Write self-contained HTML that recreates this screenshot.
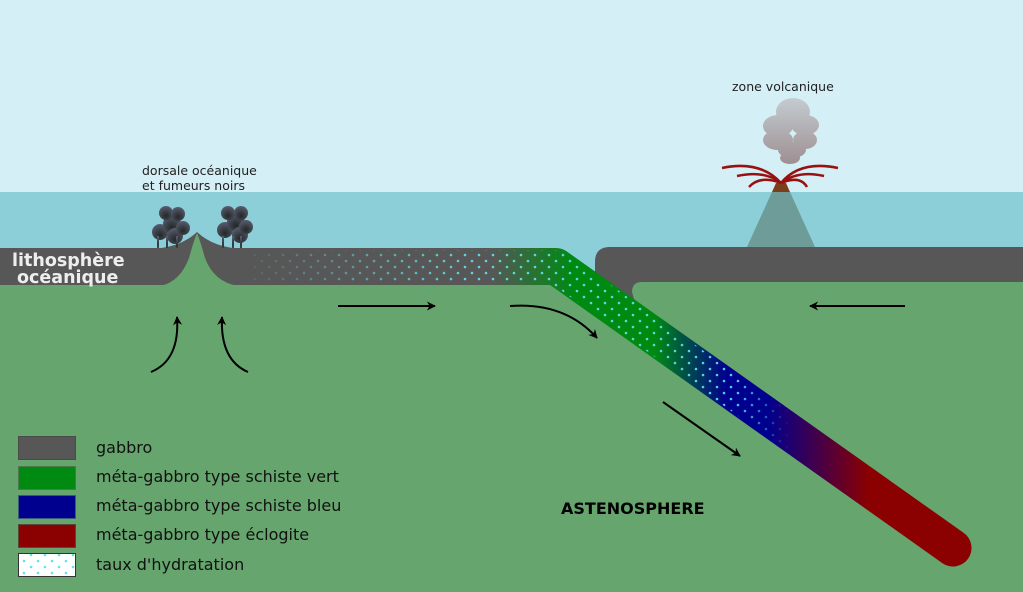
<!DOCTYPE html>
<html><head><meta charset="utf-8"><style>
html,body{margin:0;padding:0;background:#66a56e}
svg{display:block}
text{font-family:"DejaVu Sans","Liberation Sans",sans-serif}
</style></head><body>
<svg width="1023" height="592" viewBox="0 0 1023 592" xmlns="http://www.w3.org/2000/svg">
<defs>
<linearGradient id="slab" gradientUnits="userSpaceOnUse" x1="0" y1="0" x2="1023" y2="0">
<stop offset="0" stop-color="#575757"/>
<stop offset="0.48" stop-color="#575757"/>
<stop offset="0.56" stop-color="#008a12"/>
<stop offset="0.64" stop-color="#008a12"/>
<stop offset="0.71" stop-color="#00008f"/>
<stop offset="0.75" stop-color="#00008f"/>
<stop offset="0.85" stop-color="#8b0000"/>
<stop offset="1" stop-color="#8b0000"/>
</linearGradient>
<pattern id="dots" width="14" height="12" patternUnits="userSpaceOnUse">
<circle cx="3" cy="3" r="1.3" fill="#5fe3f0"/>
<circle cx="10" cy="9" r="1.3" fill="#5fe3f0"/>
</pattern>
<linearGradient id="fade" gradientUnits="userSpaceOnUse" x1="250" y1="0" x2="790" y2="0">
<stop offset="0" stop-color="#fff" stop-opacity="0.1"/>
<stop offset="0.4" stop-color="#fff" stop-opacity="0.9"/>
<stop offset="0.9" stop-color="#fff" stop-opacity="0.9"/>
<stop offset="1" stop-color="#fff" stop-opacity="0"/>
</linearGradient>
<mask id="m"><rect x="250" y="0" width="545" height="592" fill="url(#fade)"/></mask>
<radialGradient id="smoke" cx="0.5" cy="0.7" r="0.7">
<stop offset="0" stop-color="#1a1a1a"/><stop offset="1" stop-color="#556"/>
</radialGradient>
<linearGradient id="cloud" gradientUnits="userSpaceOnUse" x1="0" y1="97" x2="0" y2="164">
<stop offset="0" stop-color="#c4cdd2"/><stop offset="1" stop-color="#9e8f92"/>
</linearGradient>
<marker id="ah" viewBox="0 0 10 10" refX="9" refY="5" markerWidth="9" markerHeight="9" orient="auto" markerUnits="userSpaceOnUse">
<path d="M0,0 L10,5 L0,10 L3,5 Z" fill="#000"/>
</marker>
</defs>
<rect width="1023" height="192" fill="#d4eff5"/>
<rect y="192" width="1023" height="100" fill="#8ccfd9"/>
<rect y="285" width="1023" height="307" fill="#66a56e"/>
<rect x="600" y="282" width="423" height="10" fill="#66a56e"/>
<!-- volcano -->
<polygon points="772,192 790,192 815,247 747,247" fill="#6e9c98"/>
<polygon points="772,192 790,192 786,183 776,183" fill="#7a3f1a"/>
<g fill="url(#cloud)">
<ellipse cx="793" cy="112" rx="17" ry="14"/><ellipse cx="778" cy="126" rx="15" ry="11"/><ellipse cx="805" cy="125" rx="14" ry="10"/>
<ellipse cx="778" cy="140" rx="15" ry="10"/><ellipse cx="805" cy="140" rx="12" ry="9"/><ellipse cx="792" cy="150" rx="14" ry="8"/><ellipse cx="790" cy="158" rx="10" ry="6"/>
</g>
<g fill="none" stroke="#9a1010" stroke-width="2.5">
<path d="M781,183 Q760,160 722,168"/><path d="M781,183 Q765,170 737,176"/><path d="M781,183 Q760,175 749,187"/>
<path d="M781,183 Q800,160 838,168"/><path d="M781,183 Q798,170 824,176"/><path d="M781,183 Q800,175 807,187"/>
</g>
<!-- overriding plate -->
<path d="M1023,247 H610 Q595,247 595,262 L595,278 L637,310 L632,292 Q632,282 642,282 H1023 Z" fill="#575757"/>
<!-- subducting plate -->
<path d="M-20,266.5 H556 L953,548" stroke="url(#slab)" stroke-width="37" stroke-linecap="round" stroke-linejoin="round" fill="none"/>
<path d="M-20,266.5 H556 L953,548" stroke="url(#dots)" stroke-width="33" fill="none" mask="url(#m)"/>
<!-- ridge -->
<path d="M150,249 Q180,248 197,232 Q214,248 244,249 Z" fill="#575757"/>
<path d="M160,286 Q180,282 189,258 Q194,240 197,233 Q200,240 205,258 Q214,282 238,286 Z" fill="#66a56e"/>
<!-- smokers -->
<g fill="url(#smoke)" opacity="0.92">
<circle cx="160" cy="232" r="8"/><circle cx="172" cy="224" r="9"/><circle cx="166" cy="213" r="7"/><circle cx="178" cy="214" r="7"/><circle cx="175" cy="236" r="8"/><circle cx="183" cy="228" r="7"/>
<rect x="157" y="236" width="2" height="12"/><rect x="166" y="236" width="2" height="12"/><rect x="176" y="236" width="2" height="12"/>
<circle cx="225" cy="230" r="8"/><circle cx="236" cy="222" r="9"/><circle cx="228" cy="213" r="7"/><circle cx="241" cy="213" r="7"/><circle cx="240" cy="235" r="8"/><circle cx="246" cy="227" r="7"/>
<rect x="222" y="236" width="2" height="12"/><rect x="232" y="236" width="2" height="12"/><rect x="240" y="236" width="2" height="12"/>
</g>
<!-- arrows -->
<g stroke="#000" stroke-width="2" fill="none" marker-end="url(#ah)">
<path d="M338,306 H435"/>
<path d="M510,306 Q565,302 597,338"/>
<path d="M663,402 L740,456"/>
<path d="M905,306 H810"/>
<path d="M151,372 Q180,360 177,317"/>
<path d="M248,372 Q220,360 222,317"/>
</g>
<!-- labels -->
<text x="142" y="175" font-size="12.5" fill="#222">dorsale océanique</text>
<text x="142" y="190" font-size="12.5" fill="#222">et fumeurs noirs</text>
<text x="732" y="91" font-size="12.5" fill="#222">zone volcanique</text>
<text x="12" y="266" font-size="17.5" font-weight="bold" fill="#eee">lithosphère</text>
<text x="17" y="283" font-size="17.5" font-weight="bold" fill="#eee">océanique</text>
<text x="561" y="514" font-size="16" font-weight="bold" fill="#000">ASTENOSPHERE</text>
<!-- legend -->
<rect x="18.5" y="436.5" width="57" height="23" fill="#575757" stroke="#4a4a4a"/>
<rect x="18.5" y="466.5" width="57" height="23" fill="#008a12" stroke="#4a7a4a"/>
<rect x="18.5" y="495.5" width="57" height="23" fill="#00008f" stroke="#3a5a7a"/>
<rect x="18.5" y="524.5" width="57" height="23" fill="#8b0000" stroke="#5a4a3a"/>
<rect x="18.5" y="553.5" width="57" height="23" fill="#fff" stroke="#333"/>
<rect x="19" y="554" width="56" height="22" fill="url(#dots)"/>
<g font-size="16" fill="#111">
<text x="96" y="453">gabbro</text>
<text x="96" y="482">méta-gabbro type schiste vert</text>
<text x="96" y="511">méta-gabbro type schiste bleu</text>
<text x="96" y="540">méta-gabbro type éclogite</text>
<text x="96" y="570">taux d'hydratation</text>
</g>
</svg>
</body></html>
